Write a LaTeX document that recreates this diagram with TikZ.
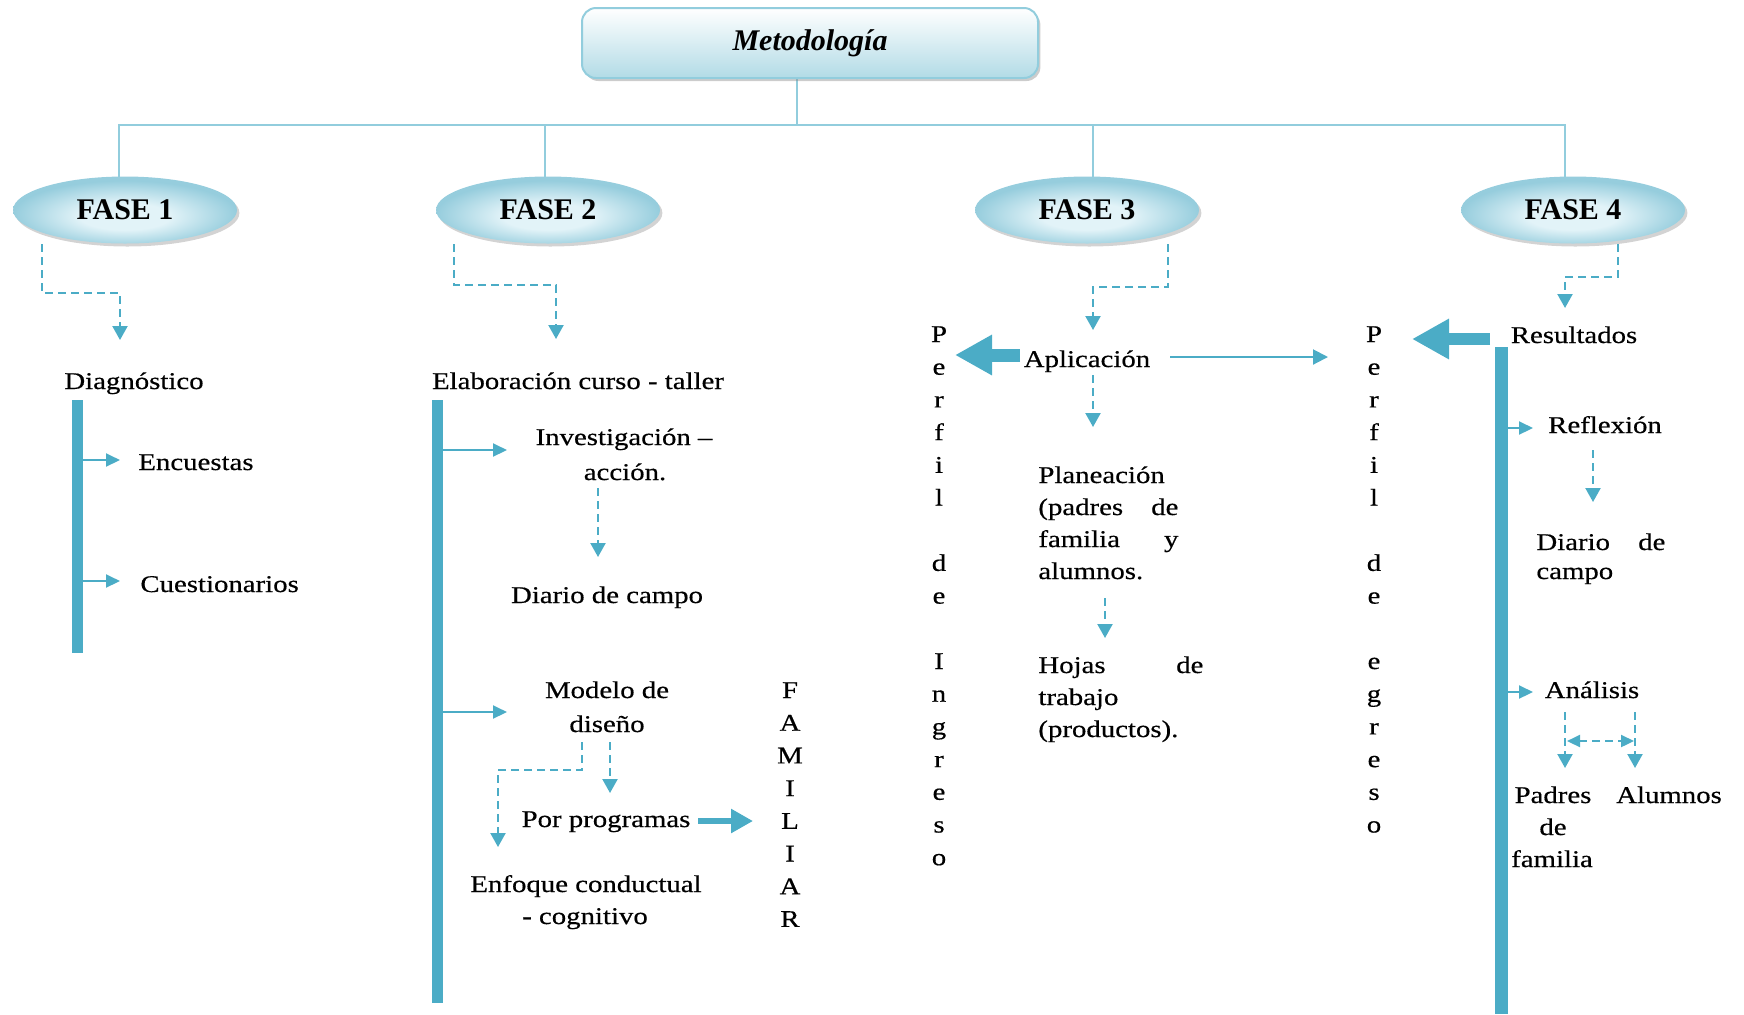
\documentclass[tikz,border=0pt]{standalone}
\usepackage{fontspec}
\setmainfont{Liberation Serif}
\newfontfamily\bodyfont{Liberation Serif}[FakeStretch=1.2,FakeBold=0.5]
\usetikzlibrary{arrows.meta,shadows,shapes.geometric}
\definecolor{acc}{RGB}{75,172,198}
\definecolor{lite}{RGB}{146,205,221}
\definecolor{fasein}{RGB}{226,243,248}
\definecolor{faseout}{RGB}{150,205,221}
\definecolor{titb}{RGB}{178,219,230}
\pgfdeclareradialshading{fasesh}{\pgfpoint{0bp}{-6bp}}{color(0bp)=(fasein); color(10bp)=(fasein); color(25bp)=(faseout); color(50bp)=(faseout)}
\begin{document}
\begin{tikzpicture}[x=0.5pt,y=-0.5pt,
  txt/.style={font=\bodyfont\fontsize{12}{14}\selectfont, anchor=base, inner sep=0pt},
  txtl/.style={txt, anchor=base west},
  topline/.style={draw=lite, line width=1.1pt},
  thin/.style={draw=acc, line width=1pt, -{Triangle[length=7pt,width=6.5pt]}},
  dsh/.style={draw=acc, line width=1.1pt, dash pattern=on 4pt off 2.5pt, -{Triangle[length=7pt,width=7.5pt]}},
  dshb/.style={draw=acc, line width=1.1pt, dash pattern=on 4pt off 2.5pt, {Triangle[length=6.5pt,width=6pt]}-{Triangle[length=6.5pt,width=6pt]}},
  fat/.style={draw=acc, line width=6.5pt, -{Triangle[length=18.5pt,width=19pt]}},
  midar/.style={draw=acc, line width=3pt, -{Triangle[length=11pt,width=11.5pt]}},
  fase/.style={ellipse, minimum width=112pt, minimum height=33.5pt, inner sep=0pt, shading=fasesh,
    drop shadow={shadow xshift=1.2pt, shadow yshift=-1.5pt, opacity=0.35},
    font=\fontsize{15}{18}\selectfont\bfseries},
  bar/.style={fill=acc}
]
\useasboundingbox (0,0) rectangle (1744,1014);

% top connectors
\coordinate (tb) at (797,78);
\coordinate (hj) at (797,125);
\coordinate (h1) at (119,125);
\coordinate (h2) at (545,125);
\coordinate (h3) at (1093,125);
\coordinate (h4) at (1565,125);
\coordinate (e1) at (119,180);
\coordinate (e2) at (545,180);
\coordinate (e3) at (1093,180);
\coordinate (e4) at (1565,180);
\draw[topline] (tb) -- (hj);
\draw[topline] (e1) -- (h1) -- (h4) -- (e4);
\draw[topline] (h2) -- (e2);
\draw[topline] (h3) -- (e3);

% title
\node[draw=lite, line width=1pt, rounded corners=7pt, minimum width=228pt, minimum height=35pt,
  top color=white, bottom color=titb,
  drop shadow={shadow xshift=1.2pt, shadow yshift=-1.5pt, opacity=0.4},
  font=\fontsize{15}{18}\selectfont\bfseries\itshape] (tit) at (810,43) {Metodología};

% phases
\node[fase] (f1) at (125,210) {FASE 1};
\node[fase] (f2) at (548,210) {FASE 2};
\node[fase] (f3) at (1087,210) {FASE 3};
\node[fase] (f4) at (1573,210) {FASE 4};

% bars
\fill[bar] (72,400) rectangle (83,653);
\fill[bar] (432,400) rectangle (443,1003);
\fill[bar] (1495,347) rectangle (1508,1014);

% ---- FASE 1
\coordinate (c1a) at (42,244);
\coordinate (c1b) at (120,293);
\coordinate (c1c) at (120,340);
\draw[dsh] (c1a) |- (c1b) -- (c1c);
\node[txt] (diag) at (134,389) {Diagnóstico};
\node[txtl] (enc) at (138,470) {Encuestas};
\node[txtl] (cues) at (140,592) {Cuestionarios};
\coordinate (b1a) at (83,460);
\coordinate (b1b) at (120,460);
\coordinate (b1c) at (83,581);
\coordinate (b1d) at (120,581);
\draw[thin] (b1a) -- (b1b);
\draw[thin] (b1c) -- (b1d);

% ---- FASE 2
\coordinate (c2a) at (454,244);
\coordinate (c2b) at (556,285);
\coordinate (c2c) at (556,339);
\draw[dsh] (c2a) |- (c2b) -- (c2c);
\node[txt] (elab) at (578,389) {Elaboración curso - taller};
\node[txt] (inv1) at (624,445) {Investigación –};
\node[txt] (inv2) at (625,480) {acción.};
\node[txt] (dc) at (607,603) {Diario de campo};
\node[txt] (mod1) at (607,698) {Modelo de};
\node[txt] (mod2) at (607,732) {diseño};
\node[txt] (porp) at (606,827) {Por programas};
\node[txt] (enf1) at (586,892) {Enfoque conductual};
\node[txt] (enf2) at (585,924) {- cognitivo};
\foreach \i/\l in {0/F,1/A,2/M,3/I,4/L,5/I,6/A,7/R}
  \node[txt] (fam\i) at (790,{698+\i*32.7}) {\l};
\coordinate (b2a) at (443,450);
\coordinate (b2b) at (507,450);
\coordinate (b2c) at (443,712);
\coordinate (b2d) at (507,712);
\draw[thin] (b2a) -- (b2b);
\draw[thin] (b2c) -- (b2d);
\coordinate (iv1) at (598,488);
\coordinate (iv2) at (598,557);
\draw[dsh] (iv1) -- (iv2);
\coordinate (md1) at (610,742);
\coordinate (md2) at (610,793);
\draw[dsh] (md1) -- (md2);
\coordinate (md3) at (582,742);
\coordinate (md4) at (498,770);
\coordinate (md5) at (498,847);
\draw[dsh] (md3) |- (md4) -- (md5);
\coordinate (pp1) at (698,821);
\coordinate (pp2) at (753,821);
\draw[midar] (pp1) -- (pp2);

% ---- FASE 3
\coordinate (c3a) at (1168,244);
\coordinate (c3b) at (1093,287);
\coordinate (c3c) at (1093,330);
\draw[dsh] (c3a) |- (c3b) -- (c3c);
\node[txt] (apl) at (1087,367) {Aplicación};
\foreach \i/\l in {0/P,1/e,2/r,3/f,4/i,5/l,7/d,8/e,10/I,11/n,12/g,13/r,14/e,15/s,16/o}
  \node[txt] (pin\i) at (939,{342+\i*32.7}) {\l};
\foreach \i/\l in {0/P,1/e,2/r,3/f,4/i,5/l,7/d,8/e,10/e,11/g,12/r,13/e,14/s,15/o}
  \node[txt] (peg\i) at (1374,{342+\i*32.7}) {\l};
\coordinate (ap1) at (1020,355);
\coordinate (ap2) at (955,355);
\draw[fat] (ap1) -- (ap2);
\coordinate (ap3) at (1170,357);
\coordinate (ap4) at (1328,357);
\draw[draw=acc, line width=1pt, -{Triangle[length=7.5pt,width=7.5pt]}] (ap3) -- (ap4);
\coordinate (ap5) at (1093,375);
\coordinate (ap6) at (1093,427);
\draw[dsh] (ap5) -- (ap6);
\node[txtl] (pl1) at (1038,483) {Planeación};
\node[txtl] (pl2) at (1038,515) {\makebox[70pt][s]{(padres de}};
\node[txtl] (pl3) at (1038,547) {\makebox[70pt][s]{familia y}};
\node[txtl] (pl4) at (1038,579) {alumnos.};
\coordinate (pn1) at (1105,598);
\coordinate (pn2) at (1105,638);
\draw[dsh] (pn1) -- (pn2);
\node[txtl] (hj1) at (1038,673) {\makebox[82.5pt][s]{Hojas de}};
\node[txtl] (hj2) at (1038,705) {trabajo};
\node[txtl] (hj3) at (1038,737) {(productos).};

% ---- FASE 4
\coordinate (c4a) at (1618,244);
\coordinate (c4b) at (1565,277);
\coordinate (c4c) at (1565,308);
\draw[dsh] (c4a) |- (c4b) -- (c4c);
\node[txt] (res) at (1574,343) {Resultados};
\coordinate (rs1) at (1490,339);
\coordinate (rs2) at (1412,339);
\draw[fat, line width=6pt] (rs1) -- (rs2);
\node[txt] (ref) at (1605,433) {Reflexión};
\coordinate (b4a) at (1508,428);
\coordinate (b4b) at (1533,428);
\draw[thin] (b4a) -- (b4b);
\coordinate (rf1) at (1593,450);
\coordinate (rf2) at (1593,502);
\draw[dsh] (rf1) -- (rf2);
\node[txtl] (dc41) at (1536,550) {\makebox[64.5pt][s]{Diario de}};
\node[txtl] (dc42) at (1536,579) {campo};
\node[txt] (ana) at (1592,698) {Análisis};
\coordinate (b4c) at (1508,692);
\coordinate (b4d) at (1533,692);
\draw[thin] (b4c) -- (b4d);
\coordinate (an1) at (1565,712);
\coordinate (an2) at (1565,768);
\coordinate (an3) at (1635,712);
\coordinate (an4) at (1635,768);
\draw[dsh] (an1) -- (an2);
\draw[dsh] (an3) -- (an4);
\coordinate (an5) at (1567,741);
\coordinate (an6) at (1634,741);
\draw[dshb] (an5) -- (an6);
\node[txt] (pad1) at (1553,803) {Padres};
\node[txt] (pad2) at (1553,835) {de};
\node[txt] (pad3) at (1552,867) {familia};
\node[txt] (alu) at (1669,803) {Alumnos};
\end{tikzpicture}
\end{document}
